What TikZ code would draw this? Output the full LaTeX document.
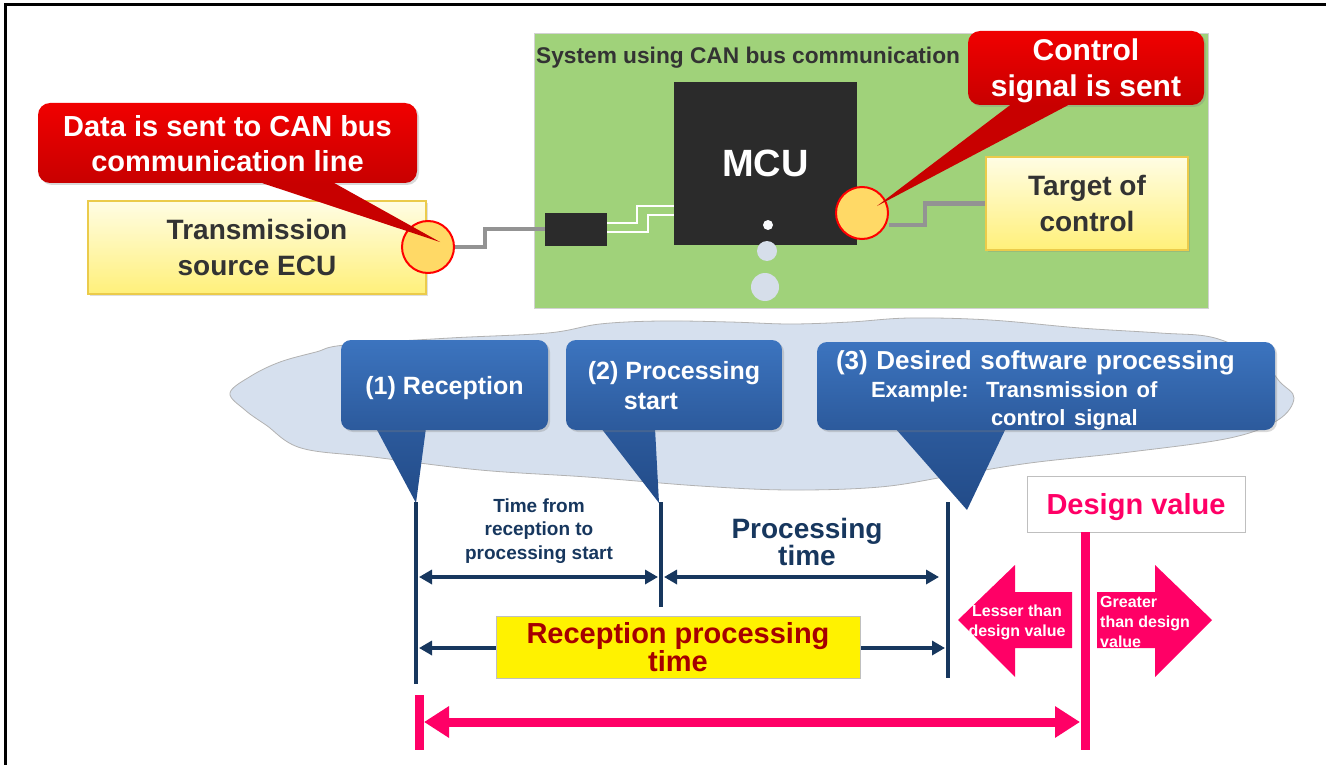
\documentclass[tikz,border=0pt]{standalone}
\usepackage{fontspec}
\setmainfont{Liberation Sans}
\usetikzlibrary{arrows.meta,shadows}

\definecolor{alarmred}{HTML}{F00000}
\definecolor{alarmdark}{HTML}{C80000}
\definecolor{portyellow}{HTML}{FFD966}
\definecolor{boxtop}{HTML}{FFFDE4}
\definecolor{boxbot}{HTML}{FFF07A}
\definecolor{boxrim}{HTML}{EBCB4B}
\definecolor{boardgreen}{HTML}{A0D27A}
\definecolor{chipblack}{HTML}{2B2B2B}
\definecolor{dotgray}{HTML}{D6DEEA}
\definecolor{cloudblue}{HTML}{D6E0EE}
\definecolor{calltop}{HTML}{3C74BF}
\definecolor{callbot}{HTML}{2C5A9C}
\definecolor{calltip}{HTML}{224B88}
\definecolor{timenavy}{HTML}{17375E}
\definecolor{designpink}{HTML}{FF0066}
\definecolor{darkred}{HTML}{A50000}
\definecolor{textgray}{HTML}{333333}

\begin{document}
\begin{tikzpicture}[x=1pt, y=-1pt,
    redcall/.style={rounded corners=12pt, top color=alarmred, bottom color=alarmdark, text=white,
        font=\bfseries\fontsize{29}{35}\selectfont, align=center, inner sep=0pt, text depth=0pt,
        drop shadow={opacity=0.3, shadow xshift=2pt, shadow yshift=-2pt}},
    ybox/.style={draw=boxrim, line width=1.5pt, top color=boxtop, bottom color=boxbot, text=textgray,
        font=\bfseries\fontsize{28}{36}\selectfont, align=center, inner sep=0pt,
        drop shadow={opacity=0.25, shadow xshift=2pt, shadow yshift=-2pt}},
    portdot/.style={circle, minimum size=52pt, inner sep=0pt, fill=portyellow, draw=red, line width=2pt},
    wire/.style={line width=4pt, draw=gray!85},
    bluecall/.style={rounded corners=10pt, top color=calltop, bottom color=callbot, text=white,
        font=\bfseries\fontsize{25}{30}\selectfont, inner sep=0pt,
        drop shadow={opacity=0.3, shadow xshift=2pt, shadow yshift=-2pt}},
    timeline/.style={line width=3.5pt, draw=timenavy},
    timearrow/.style={line width=3.5pt, draw=timenavy, {Triangle[length=13pt, width=14pt]}-{Triangle[length=13pt, width=14pt]}},
    navytext/.style={text=timenavy, font=\bfseries, align=center, inner sep=0pt},
    pinkbar/.style={line width=9pt, draw=designpink},
    pinktext/.style={text=white, font=\bfseries\fontsize{16}{20}\selectfont, inner sep=0pt}
]
    \useasboundingbox (0,0) rectangle (1326,765);

    % 外框
    \draw[line width=3pt] (5,765) -- (5,5) -- (1326,5);

    % 绿色系统底板
    \node[draw=gray!35, fill=boardgreen, minimum width=674pt, minimum height=275pt, inner sep=0pt,
          anchor=north west] (board) at (534,33) {};
    \node[anchor=west, text=textgray, font=\bfseries\fontsize{22.7}{26}\selectfont, inner sep=0pt]
          (boardtitle) at (536,58) {System using CAN bus communication};

    % CAN 收发器与 MCU
    \node[fill=chipblack, minimum width=62pt, minimum height=33pt, inner sep=0pt] (canbox) at (576,229) {};
    \node[fill=chipblack, minimum width=183pt, minimum height=163pt, inner sep=0pt, text=white,
          font=\bfseries\fontsize{38}{40}\selectfont] (mcu) at (765.5,163.5) {MCU};

    % 收发器到 MCU 的两条白线
    \draw[white, line width=2pt] ([yshift=6pt]canbox.east) -- ++(30,0) |- ([yshift=-42.5pt]mcu.west);
    \draw[white, line width=2pt] ([yshift=-3pt]canbox.east) -- ++(41,0) |- ([yshift=-51pt]mcu.west);

    % MCU 下方的圆点
    \fill[white!85!dotgray] (768,225) circle (5);
    \fill[dotgray] (767,251) circle (10);
    \fill[dotgray] (765,287) circle (14);

    % 发送源 ECU 与端口
    \node[ybox, minimum width=338pt, minimum height=93pt] (txecu) at (257,247.5) {Transmission\\source ECU};
    \node[portdot] (txport) at (428,247) {};
    \draw[wire] (txport.east) -- ++(30,0) |- (canbox.west);

    % 控制对象与端口
    \node[ybox, minimum width=202pt, minimum height=93pt] (target) at (1087,203.5) {Target of\\control};
    \node[portdot] (rxport) at (862,213) {};
    \draw[wire] ([yshift=-12pt]rxport.east) -- ++(36,0) |- (target.west);

    % 红色提示框一
    \node[redcall, minimum width=379pt, minimum height=80pt] (sendnote) at (227.5,143) {Data is sent to CAN bus\\communication line};
    \coordinate (txtip) at (440,242);
    \fill[alarmdark] ([xshift=35pt]sendnote.south) -- (txtip) -- ([xshift=107pt]sendnote.south) -- cycle;

    % 红色提示框二
    \node[redcall, minimum width=236pt, minimum height=74pt, font=\bfseries\fontsize{30}{36}\selectfont]
          (ctrlnote) at (1086,68) {Control\\signal is sent};
    \coordinate (rxtip) at (877,206);
    \fill[alarmdark] ([xshift=-76pt]ctrlnote.south) -- (rxtip) -- ([xshift=-18pt]ctrlnote.south) -- cycle;

    % 云形背景
    \filldraw[fill=cloudblue, draw=gray!60, line width=0.8pt] plot[smooth cycle, tension=0.6] coordinates {
        (230,393) (251,376) (280,362) (316,352) (345,345) (450,338) (548,333) (600,324) (660,321)
        (730,322) (790,324) (850,322) (910,318) (990,320) (1080,328) (1160,333) (1215,338)
        (1260,360) (1280,382) (1294,398) (1278,420) (1230,438) (1130,452) (1030,463) (950,476)
        (880,487) (790,490) (700,486) (587,477) (480,470) (373,457) (301,448) (266,425) (245,410)};

    % 蓝色提示框 (1)
    \coordinate (recvtip) at (416,503);
    \shade[top color=callbot, bottom color=calltip] (376,428) -- (recvtip) -- (426,428) -- cycle;
    \node[bluecall, text depth=0pt, minimum width=207pt, minimum height=90pt] (recvnote) at (444.5,385) {(1) Reception};

    % 蓝色提示框 (2)
    \coordinate (starttip) at (659,503);
    \shade[top color=callbot, bottom color=calltip] (601,428) -- (starttip) -- (655,428) -- cycle;
    \node[bluecall, text depth=0pt, minimum width=216pt, minimum height=90pt, align=left] (startnote) at (674,385)
          {(2) Processing\\\hspace*{36pt}start};

    % 蓝色提示框 (3)
    \coordinate (donetip) at (967,510);
    \shade[top color=callbot, bottom color=calltip] (895,428) -- (donetip) -- (1006,428) -- cycle;
    \node[bluecall, minimum width=458pt, minimum height=88pt, text width=420pt, align=left,
          text height=20pt, text depth=54pt,
          font=\bfseries\fontsize{26}{28}\selectfont] (donenote) at (1046,386)
          {(3) Desired software processing\\
           \hspace*{35pt}\fontsize{22}{28}\selectfont Example:\ \ Transmission of\\
           \hspace*{155pt}control signal};

    % 时间线
    \coordinate (recvtop) at (416,502);
    \coordinate (starttop) at (661,502);
    \coordinate (donetop) at (948,502);
    \draw[timeline] (recvtop) -- ++(0,182);
    \draw[timeline] (starttop) -- ++(0,105);
    \draw[timeline] (donetop) -- ++(0,176);

    \coordinate (waitL) at (419,577);
    \coordinate (waitR) at (658,577);
    \coordinate (procL) at (664,577);
    \coordinate (procR) at (939,577);
    \coordinate (totalL) at (419,648);
    \coordinate (totalR) at (945,648);
    \draw[timearrow] (waitL) -- (waitR);
    \draw[timearrow] (procL) -- (procR);
    \draw[timearrow] (totalL) -- (totalR);

    \node[navytext, font=\bfseries\fontsize{19}{23.5}\selectfont] (waittext) at (539,531)
          {Time from\\reception to\\processing start};
    \node[navytext, font=\bfseries\fontsize{28}{25}\selectfont] (proctext) at (807,542)
          {Processing\\time};
    \node[draw=gray!50, fill=yellow, minimum width=364pt, minimum height=62pt, inner sep=0pt,
          text=darkred, font=\bfseries\fontsize{29}{24}\selectfont, align=center] (totaltext) at (678,647)
          {Reception processing\\time};

    % 设计值
    \node[draw=gray!50, fill=white, minimum width=218pt, minimum height=56pt, inner sep=0pt, text depth=0pt,
          text=designpink, font=\bfseries\fontsize{29}{34}\selectfont] (design) at (1136,504) {Design value};
    \draw[pinkbar] ([xshift=-51pt]design.south) -- ++(0,218);

    % 小于 / 大于设计值的箭头
    \fill[designpink] (958,620) -- (1015,565) -- (1015,592) -- (1072,592) -- (1072,648) -- (1015,648) -- (1015,677) -- cycle;
    \fill[designpink] (1212,620) -- (1155,565) -- (1155,592) -- (1097,592) -- (1097,648) -- (1155,648) -- (1155,677) -- cycle;
    \node[pinktext, align=center] (lesser) at (1017,622) {Lesser than\\design value};
    \node[pinktext, align=left, anchor=west] (greater) at (1100,622) {Greater\\than design\\value};

    % 底部粉色范围箭头
    \coordinate (spanstart) at (424,722);
    \coordinate (spanend) at (1080,722);
    \draw[pinkbar] (419,695) -- (419,750);
    \draw[pinkbar, {Triangle[length=25pt, width=30pt]}-{Triangle[length=25pt, width=30pt]}] (spanstart) -- (spanend);
\end{tikzpicture}
\end{document}
